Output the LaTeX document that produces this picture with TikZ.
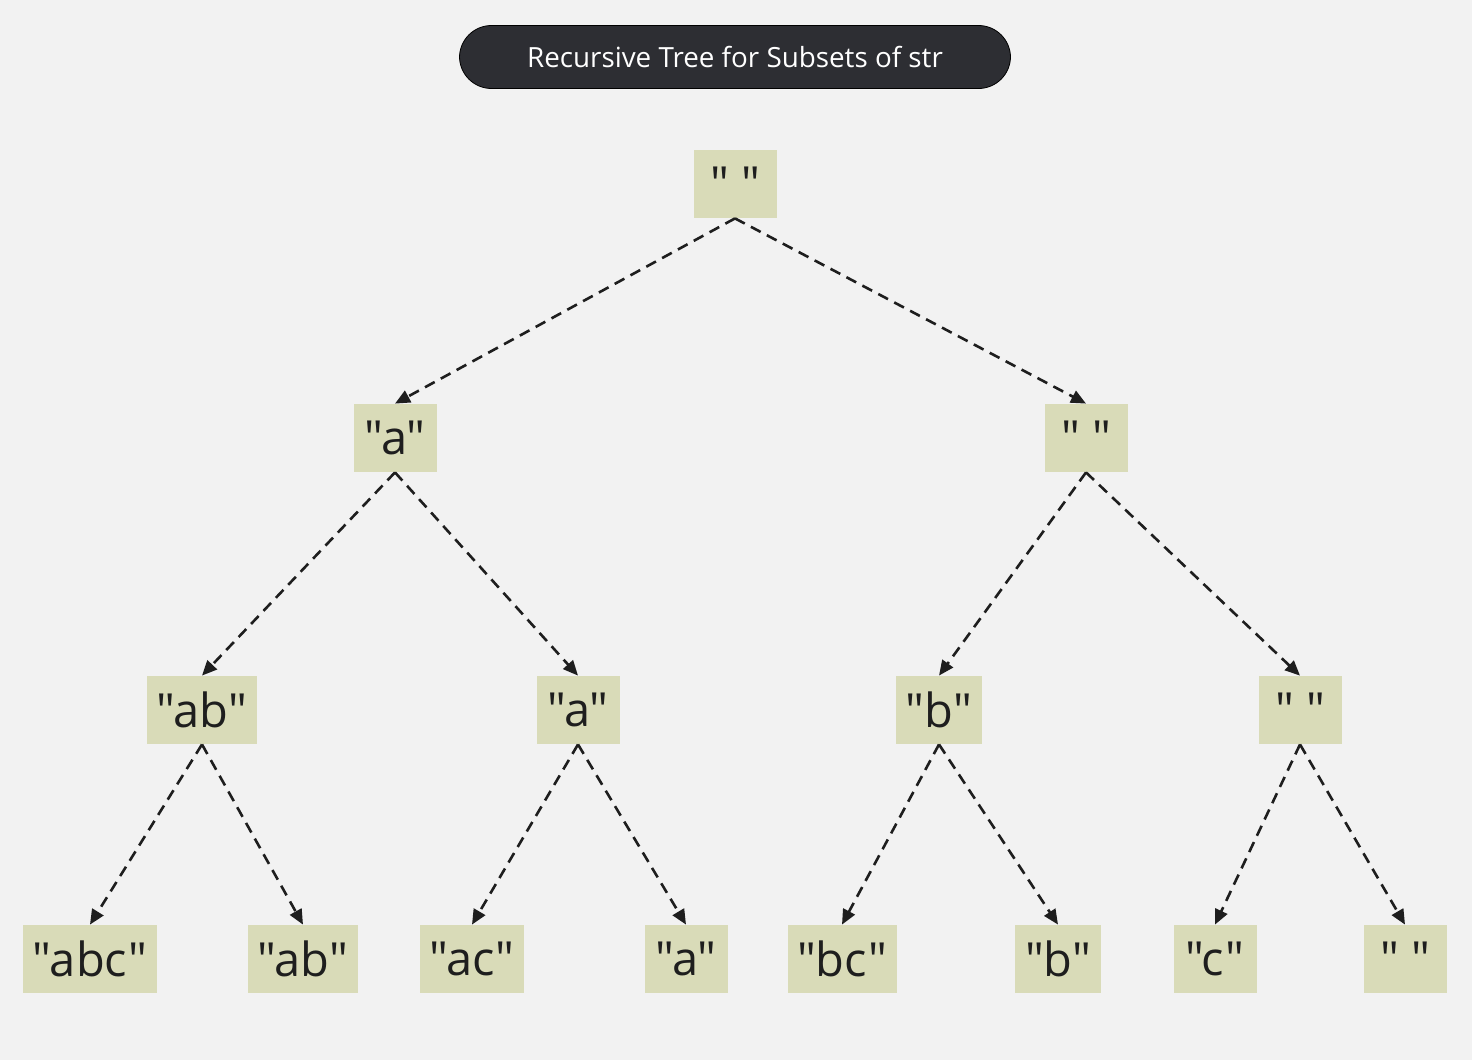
\documentclass[tikz,border=0pt]{standalone}
\usepackage{fontspec}
\setmainfont{Open Sans}
\newfontfamily\nodefont{Open Sans}[Ligatures=TeXOff]
\usetikzlibrary{arrows.meta}
\definecolor{bgGray}{RGB}{242,242,242}
\definecolor{leafGreen}{RGB}{217,219,184}
\definecolor{pillDark}{RGB}{45,46,51}
\definecolor{inkDark}{RGB}{30,30,30}

\begin{document}
\begin{tikzpicture}[x=0.5pt, y=-0.5pt, >={Triangle[length=7.5pt,width=6.5pt]},
  sn/.style={fill=leafGreen, text=inkDark, minimum height=34pt, minimum width=41.5pt,
             inner xsep=4.8pt, font=\nodefont\fontsize{23.5pt}{28pt}\selectfont},
  edge/.style={->, draw=inkDark, line width=1.3pt, dash pattern=on 5.5pt off 3.5pt}]

  \fill[bgGray] (0,0) rectangle (1472,1060);
  \useasboundingbox (0,0) rectangle (1472,1060);

  \node[fill=pillDark, draw=black, text=white, rounded corners=16pt,
        minimum width=275.5pt, minimum height=31.5pt,
        font=\fontsize{13.9pt}{17pt}\selectfont] (title) at (735,57)
    {Recursive Tree for Subsets of str};

  % root and first level
  \node[sn] (r)   at (735,184)  {" "};
  \node[sn] (a)   at (395,438)  {"a"};
  \node[sn] (e)   at (1086,438) {" "};
  % second level
  \node[sn] (ab)  at (202,710)  {"ab"};
  \node[sn] (aa)  at (578,710)  {"a"};
  \node[sn] (b)   at (939,710)  {"b"};
  \node[sn] (ee)  at (1300,710) {" "};
  % leaves
  \node[sn] (abc) at (90,959)   {"abc"};
  \node[sn] (abb) at (303,959)  {"ab"};
  \node[sn] (ac)  at (472,959)  {"ac"};
  \node[sn] (aaa) at (686,959)  {"a"};
  \node[sn] (bc)  at (842,959)  {"bc"};
  \node[sn] (bb)  at (1058,959) {"b"};
  \node[sn] (c)   at (1215,959) {"c"};
  \node[sn] (eee) at (1405,959) {" "};

  \foreach \p/\q in {r/a, r/e, a/ab, a/aa, e/b, e/ee,
                     ab/abc, ab/abb, aa/ac, aa/aaa, b/bc, b/bb, ee/c, ee/eee}
    \draw[edge] (\p.south) -- (\q.north);

\end{tikzpicture}
\end{document}
